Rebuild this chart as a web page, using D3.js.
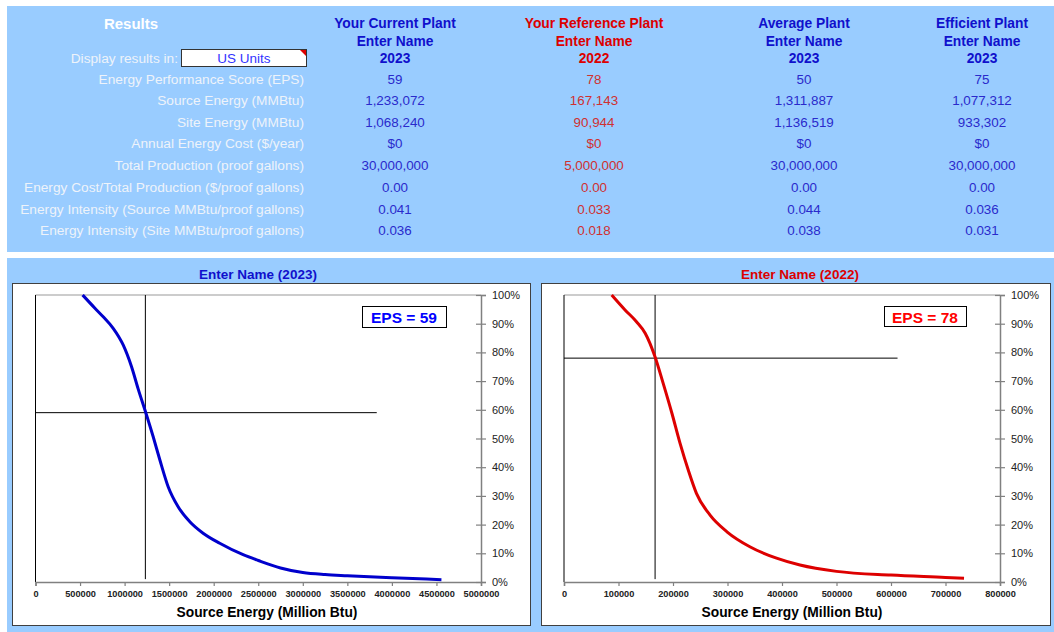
<!DOCTYPE html>
<html>
<head>
<meta charset="utf-8">
<script src="https://cdn.jsdelivr.net/npm/d3@7"></script>
<style>
  html, body { margin: 0; padding: 0; background: #ffffff; }
  svg { display: block; font-family: "Liberation Sans", Arial, sans-serif; }
</style>
</head>
<body>
<svg id="chart" width="1054" height="632"></svg>
<script>
// ---------- DATA ----------
const rowLabels = [
  "Energy Performance Score (EPS)",
  "Source Energy (MMBtu)",
  "Site Energy (MMBtu)",
  "Annual Energy Cost ($/year)",
  "Total Production (proof gallons)",
  "Energy Cost/Total Production ($/proof gallons)",
  "Energy Intensity (Source MMBtu/proof gallons)",
  "Energy Intensity (Site MMBtu/proof gallons)"
];
const plantTypes = ["Your Current Plant", "Your Reference Plant", "Average Plant", "Efficient Plant"];
const plantNames = ["Enter Name", "Enter Name", "Enter Name", "Enter Name"];
const plantYears = ["2023", "2022", "2023", "2023"];
const epsScores = [59, 78, 50, 75];
const sourceEnergy = [1233072, 167143, 1311887, 1077312];
const siteEnergy = [1068240, 90944, 1136519, 933302];
const annualCost = [0, 0, 0, 0];
const totalProduction = [30000000, 5000000, 30000000, 30000000];
const costPerProduction = [0, 0, 0, 0];
const sourceIntensity = [0.041, 0.033, 0.044, 0.036];
const siteIntensity = [0.036, 0.018, 0.038, 0.031];
const unitsChoice = "US Units";

// Curve: source energy (Million Btu) vs. cumulative percent
const currentCurveEnergy = [529000, 667000, 760000, 872000, 984000, 1078000, 1152000, 1239000, 1321000, 1396000, 1489000, 1601000, 1732000, 1881000, 2068000, 2330000, 2500000, 2750000, 3000000, 3250000, 3500000, 4000000, 4556000];
const currentCurvePct    = [100, 95.4, 92.4, 88.4, 82.6, 75, 67.3, 58.9, 50.6, 42.5, 33.2, 26.2, 21, 17, 13.5, 9.5, 7.5, 4.9, 3.3, 2.6, 2.2, 1.5, 0.8];
const referenceCurveEnergy = [87500, 112000, 133000, 149000, 167000, 182000, 198000, 213000, 228000, 243000, 268000, 299000, 341000, 390000, 433000, 500000, 600000, 700000, 734000];
const referenceCurvePct    = [100, 94.8, 90.7, 86.7, 78.5, 69.2, 58.8, 48.3, 39, 30.9, 23.3, 17.5, 12.3, 8.3, 5.9, 3.7, 2.4, 1.6, 1.3];
const currentXTicks = [0, 500000, 1000000, 1500000, 2000000, 2500000, 3000000, 3500000, 4000000, 4500000, 5000000];
const referenceXTicks = [0, 100000, 200000, 300000, 400000, 500000, 600000, 700000, 800000];
const pctTicks = [0, 10, 20, 30, 40, 50, 60, 70, 80, 90, 100];
const markerLineEnds = [3830000, 612000];
const xAxisTitle = "Source Energy (Million Btu)";

// ---------- DRAW ----------
const svg = d3.select("#chart");
const BLUE_BG = "#99CCFF";
const FONT = "'Liberation Sans', Arial, sans-serif";

// panels
svg.append("rect").attr("x", 7).attr("y", 6).attr("width", 1047).attr("height", 246).attr("fill", BLUE_BG);
svg.append("rect").attr("x", 7).attr("y", 258).attr("width", 1047).attr("height", 374).attr("fill", BLUE_BG);

// ----- results table -----
const colX = [395, 594, 804, 982];
const headColors = ["#1010CC", "#DD0000", "#1010CC", "#1010CC"];
const valColors = ["#2A2ACC", "#D03030", "#2A2ACC", "#2A2ACC"];
const rowY = [79, 100, 122, 143, 165, 187, 209, 230];

svg.append("text").attr("x", 131).attr("y", 23).attr("text-anchor", "middle").attr("dominant-baseline", "central")
  .attr("font-size", 15).attr("font-weight", "bold").attr("fill", "#ffffff").text("Results");

svg.append("text").attr("x", 178).attr("y", 58).attr("text-anchor", "end").attr("dominant-baseline", "central")
  .attr("font-size", 13.7).attr("fill", "#EEF3FA").text("Display results in:");
svg.append("rect").attr("x", 181.5).attr("y", 49.5).attr("width", 125).attr("height", 17)
  .attr("fill", "#ffffff").attr("stroke", "#333333").attr("stroke-width", 1);
svg.append("path").attr("d", "M300,50 L306,50 L306,56 Z").attr("fill", "#DD0000");
svg.append("text").attr("x", 244).attr("y", 58).attr("text-anchor", "middle").attr("dominant-baseline", "central")
  .attr("font-size", 13.5).attr("fill", "#3333FF").text(unitsChoice);

rowLabels.forEach((lab, i) => {
  svg.append("text").attr("x", 304).attr("y", rowY[i]).attr("text-anchor", "end").attr("dominant-baseline", "central")
    .attr("font-size", 13.7).attr("fill", "#EEF3FA").text(lab);
});

const fmtInt = d3.format(",d");
const fmtMoney = d => "$" + d3.format(",d")(d);
const fmt2 = d3.format(".2f");
const fmt3 = d3.format(".3f");
const rows = [
  epsScores.map(d => String(d)),
  sourceEnergy.map(fmtInt),
  siteEnergy.map(fmtInt),
  annualCost.map(fmtMoney),
  totalProduction.map(fmtInt),
  costPerProduction.map(fmt2),
  sourceIntensity.map(fmt3),
  siteIntensity.map(fmt3)
];

plantTypes.forEach((pt, c) => {
  [pt, plantNames[c], plantYears[c]].forEach((t, k) => {
    svg.append("text").attr("x", colX[c]).attr("y", [23, 41, 58][k]).attr("text-anchor", "middle")
      .attr("dominant-baseline", "central").attr("font-size", 13.8).attr("font-weight", "bold")
      .attr("fill", headColors[c]).text(t);
  });
  rows.forEach((r, i) => {
    svg.append("text").attr("x", colX[c]).attr("y", rowY[i]).attr("text-anchor", "middle")
      .attr("dominant-baseline", "central").attr("font-size", 13.4).attr("fill", valColors[c]).text(r[c]);
  });
});

// ----- charts -----
const charts = [
  { box: [12, 283, 518, 342], plot: [35.5, 295, 481, 582], ticks: currentXTicks,
    energy: currentCurveEnergy, pct: currentCurvePct, idx: 0, hEnd: markerLineEnds[0],
    titleX: 258, axisTitleX: 267,
    color: "#0000CC", titleColor: "#1010CC", epsColor: "#0000FF", epsBox: [362, 306, 84, 21] },
  { box: [541, 283, 509, 342], plot: [564, 295, 1000, 582], ticks: referenceXTicks,
    energy: referenceCurveEnergy, pct: referenceCurvePct, idx: 1, hEnd: markerLineEnds[1],
    titleX: 800, axisTitleX: 792,
    color: "#DD0000", titleColor: "#DD0000", epsColor: "#FF0000", epsBox: [884, 306, 82, 20] }
];

charts.forEach(ch => {
  const [bx, by, bw, bh] = ch.box;
  const [x0, y0, x1, y1] = ch.plot;
  const g = svg.append("g");

  // title
  g.append("text").attr("x", ch.titleX).attr("y", 274).attr("text-anchor", "middle")
    .attr("dominant-baseline", "central").attr("font-size", 13.5).attr("font-weight", "bold")
    .attr("fill", ch.titleColor).text(`${plantNames[ch.idx]} (${plantYears[ch.idx]})`);

  // white box
  g.append("rect").attr("x", bx + 0.5).attr("y", by + 0.5).attr("width", bw).attr("height", bh)
    .attr("fill", "#ffffff").attr("stroke", "#404040").attr("stroke-width", 1);

  const x = d3.scaleLinear().domain([0, d3.max(ch.ticks)]).range([x0, x1]);
  const y = d3.scaleLinear().domain([0, 100]).range([y1, y0]);

  // plot borders
  g.append("line").attr("x1", x0).attr("x2", x1).attr("y1", y0).attr("y2", y0)
    .attr("stroke", "#BBBBBB").attr("stroke-width", 1.5);
  g.append("line").attr("x1", x0).attr("x2", x0).attr("y1", y0).attr("y2", y1)
    .attr("stroke", "#000000").attr("stroke-width", 1);

  // x axis
  const xAxis = d3.axisBottom(x).tickValues(ch.ticks).tickFormat(d3.format("d")).tickSize(4).tickPadding(4);
  const xg = g.append("g").attr("transform", `translate(0,${y1})`).call(xAxis);
  xg.select(".domain").attr("stroke", "#808080").attr("stroke-width", 1.5);
  xg.selectAll(".tick line").attr("stroke", "#808080").attr("stroke-width", 1.2);
  xg.selectAll(".tick text").attr("font-family", FONT).attr("font-size", 9.2).attr("font-weight", "bold").attr("fill", "#222");

  // y axis (right, crossing ticks)
  const yAxis = d3.axisRight(y).tickValues(pctTicks).tickFormat(d => d + "%").tickSize(5).tickPadding(6);
  const yg = g.append("g").attr("transform", `translate(${x1},0)`).call(yAxis);
  yg.select(".domain").attr("stroke", "#808080").attr("stroke-width", 1.5);
  yg.selectAll(".tick line").attr("x1", -5).attr("stroke", "#808080").attr("stroke-width", 1.2);
  yg.selectAll(".tick text").attr("font-family", FONT).attr("font-size", 11).attr("fill", "#222");

  // axis title
  g.append("text").attr("x", ch.axisTitleX).attr("y", 612).attr("text-anchor", "middle")
    .attr("dominant-baseline", "central").attr("font-size", 13.8).attr("font-weight", "bold")
    .attr("fill", "#000").text(xAxisTitle);

  // marker lines
  const se = sourceEnergy[ch.idx], ep = epsScores[ch.idx];
  g.append("line").attr("x1", x(se)).attr("x2", x(se)).attr("y1", y(100)).attr("y2", y(1))
    .attr("stroke", "#000").attr("stroke-width", 1);
  g.append("line").attr("x1", x(0)).attr("x2", x(ch.hEnd)).attr("y1", y(ep)).attr("y2", y(ep))
    .attr("stroke", "#000").attr("stroke-width", 1);

  // curve
  const pts = ch.energy.map((e, i) => [e, ch.pct[i]]);
  const line = d3.line().x(d => x(d[0])).y(d => y(d[1])).curve(d3.curveMonotoneX);
  g.append("path").attr("d", line(pts)).attr("fill", "none").attr("stroke", ch.color)
    .attr("stroke-width", 3).attr("stroke-linejoin", "round").attr("stroke-linecap", "butt");

  // EPS box
  const [ex, ey, ew, eh] = ch.epsBox;
  g.append("rect").attr("x", ex + 0.5).attr("y", ey + 0.5).attr("width", ew).attr("height", eh)
    .attr("fill", "#ffffff").attr("stroke", "#000").attr("stroke-width", 1);
  g.append("text").attr("x", ex + ew / 2).attr("y", ey + eh / 2 + 1).attr("text-anchor", "middle")
    .attr("dominant-baseline", "central").attr("font-size", 15.5).attr("font-weight", "bold")
    .attr("fill", ch.epsColor).text(`EPS = ${ep}`);
});
</script>
</body>
</html>
